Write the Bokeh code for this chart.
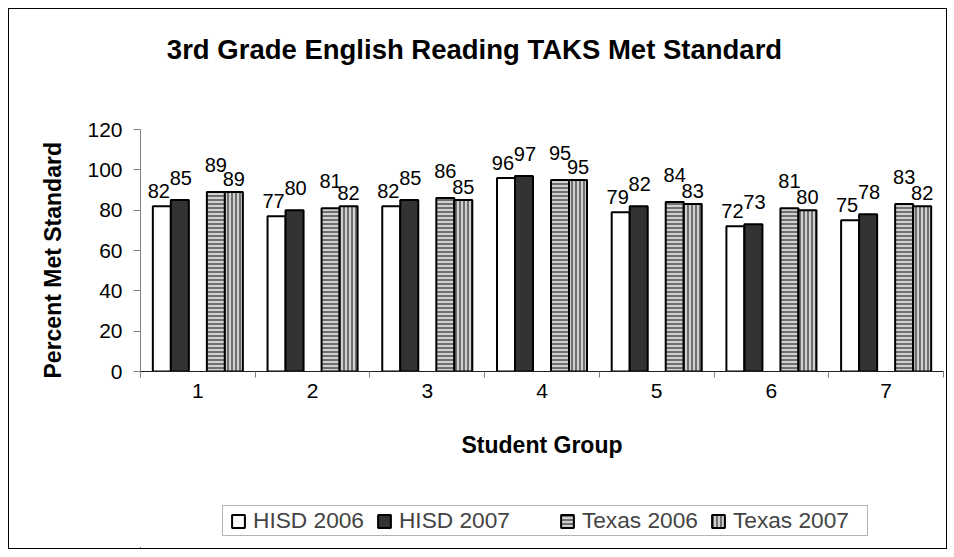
from bokeh.plotting import figure
from bokeh.models import (Range1d, FixedTicker, ColumnDataSource, LabelSet, Label,
                          Legend, LegendItem, Title, BoxAnnotation)
from bokeh.layouts import column
from bokeh.transform import dodge
from bokeh.embed import file_html
from bokeh.resources import INLINE
from bokeh.core.properties import value

# ---------------- data ----------------
categories = [1, 2, 3, 4, 5, 6, 7]
hisd_2006 = [82, 77, 82, 96, 79, 72, 75]
hisd_2007 = [85, 80, 85, 97, 82, 73, 78]
texas_2006 = [89, 81, 86, 95, 84, 81, 83]
texas_2007 = [89, 82, 85, 95, 83, 80, 82]
series_names = ["HISD 2006", "HISD 2007", "Texas 2006", "Texas 2007"]
y_ticks = [0, 20, 40, 60, 80, 100, 120]
title_text = "3rd Grade English Reading TAKS Met Standard"
x_title = "Student Group"
y_title = "Percent Met Standard"

FONT = "Liberation Sans"
W = 937
H_TITLE, H_MAIN, H_LEG = 60, 411, 68


def strip(height):
    f = figure(width=W, height=height, output_backend="svg", toolbar_location=None,
               x_axis_type=None, y_axis_type=None,
               x_range=Range1d(0, 1), y_range=Range1d(0, 1), min_border=0)
    f.outline_line_color = None
    f.xgrid.visible = False
    f.ygrid.visible = False
    f.background_fill_color = "white"
    f.border_fill_color = "white"
    return f


# ---------------- title strip ----------------
t = strip(H_TITLE)
t.add_layout(Label(x=334, y=20, x_units="screen", y_units="screen", text=title_text,
                   text_align="center", text_baseline="alphabetic",
                   text_font=FONT, text_font_size="27.5px",
                   text_font_style="bold", text_color="black"))

# ---------------- main plot ----------------
src = ColumnDataSource(dict(
    x=categories,
    h06=hisd_2006, h07=hisd_2007, t06=texas_2006, t07=texas_2007,
    h06s=[str(v) for v in hisd_2006], h07s=[str(v) for v in hisd_2007],
    t06s=[str(v) for v in texas_2006], t07s=[str(v) for v in texas_2007],
))

p = figure(width=W, height=H_MAIN, output_backend="svg", toolbar_location=None,
           x_range=Range1d(categories[0] - 0.5, categories[-1] + 0.5),
           y_range=Range1d(y_ticks[0], y_ticks[-1]),
           min_border_left=131, min_border_right=3,
           min_border_top=60, min_border_bottom=109)
p.title.visible = False
p.outline_line_color = None
p.xgrid.visible = False
p.ygrid.visible = False
p.background_fill_color = "white"
p.border_fill_color = "white"

# y axis
p.yaxis.ticker = FixedTicker(ticks=y_ticks, minor_ticks=[])
p.yaxis.major_tick_out = 7
p.yaxis.major_tick_in = 0
p.yaxis.minor_tick_out = 0
p.yaxis.minor_tick_in = 0
p.yaxis.axis_line_color = "#808080"
p.yaxis.major_tick_line_color = "#808080"
p.yaxis.major_label_text_font = FONT
p.yaxis.major_label_text_font_size = "21px"
p.yaxis.major_label_text_color = "black"
p.yaxis.major_label_standoff = 11

ytitle = Title(text=y_title, align="left", vertical_align="bottom", offset=-7,
               standoff=38, text_font=FONT, text_font_size="23px",
               text_font_style="bold", text_color="black")
p.add_layout(ytitle, "left")

# x axis: labels at category centres, tick marks at category boundaries
bounds = [c - 0.5 for c in categories] + [categories[-1] + 0.5]
p.xaxis.ticker = FixedTicker(ticks=categories, minor_ticks=bounds)
p.xaxis.major_tick_out = 0
p.xaxis.major_tick_in = 0
p.xaxis.minor_tick_out = 6
p.xaxis.minor_tick_in = 0
p.xaxis.minor_tick_line_color = "#808080"
p.xaxis.axis_line_color = "#202020"
p.xaxis.major_label_text_font = FONT
p.xaxis.major_label_text_font_size = "21px"
p.xaxis.major_label_text_color = "black"
p.xaxis.major_label_standoff = 6
p.xaxis.axis_label = x_title
p.xaxis.axis_label_text_font = FONT
p.xaxis.axis_label_text_font_size = "23px"
p.xaxis.axis_label_text_font_style = "bold"
p.xaxis.axis_label_text_color = "black"
p.xaxis.axis_label_standoff = 31

# bars
slot = 0.157
styles = [
    dict(col="h06", off=-2 * slot, fill_color="white", hatch=None, dy=8, dx=-3),
    dict(col="h07", off=-1 * slot, fill_color="#333333", hatch=None, dy=15, dx=1),
    dict(col="t06", off=1 * slot, fill_color="#d0d0d0", hatch="horizontal_line", dy=20, dx=0),
    dict(col="t07", off=2 * slot, fill_color="#d0d0d0", hatch="vertical_line", dy=6, dx=0),
]


def bar_style(st):
    kw = dict(fill_color=st["fill_color"], line_color="black", line_width=2)
    if st["hatch"]:
        kw.update(hatch_pattern=st["hatch"], hatch_color="#505050",
                  hatch_scale=4, hatch_weight=1.5)
    return kw


for st in styles:
    p.vbar(x=dodge("x", st["off"], range=p.x_range), top=st["col"], bottom=0,
           width=slot, source=src, **bar_style(st))
    ls = LabelSet(x=dodge("x", st["off"], range=p.x_range), y=st["col"],
                  text=st["col"] + "s", source=src, text_align="center",
                  text_baseline="alphabetic", y_offset=st["dy"], x_offset=st["dx"],
                  text_font=value(FONT), text_font_size=value("20px"),
                  text_color="black")
    p.add_layout(ls)

# ---------------- legend strip ----------------
q = strip(H_LEG)
# swatch renderers: one point each, placed outside the visible range
legend_renderers = [q.vbar(x=[-5], top=[-5], bottom=[-6], width=0.1, **bar_style(st))
                    for st in styles]
blank = q.vbar(x=[-5], top=[-5], bottom=[-6], width=0.1, fill_alpha=0, line_alpha=0)

items = [
    LegendItem(label=series_names[0], renderers=[legend_renderers[0]]),
    LegendItem(label=series_names[1], renderers=[legend_renderers[1]]),
    LegendItem(label="\u200a", renderers=[blank]),
    LegendItem(label=series_names[2], renderers=[legend_renderers[2]]),
    LegendItem(label=series_names[3], renderers=[legend_renderers[3]]),
]
legend = Legend(items=items, orientation="horizontal", location=(90, 14),
                label_text_font=FONT, label_text_font_size="22.7px",
                glyph_width=16, glyph_height=16, label_standoff=7, spacing=12,
                label_width=0, padding=0, margin=0, border_line_color=None,
                background_fill_alpha=0)
q.add_layout(legend)
q.add_layout(BoxAnnotation(left=82, right=727, bottom=13, top=43,
                           left_units="screen", right_units="screen",
                           bottom_units="screen", top_units="screen",
                           fill_color="white", fill_alpha=1,
                           line_color="black", line_width=1, level="underlay"))

lay = column(t, p, q, spacing=0)
lay.styles = {"border": "1px solid #000000", "margin-left": "8px", "margin-top": "8px"}

open("out.html", "w").write(file_html(lay, INLINE))
